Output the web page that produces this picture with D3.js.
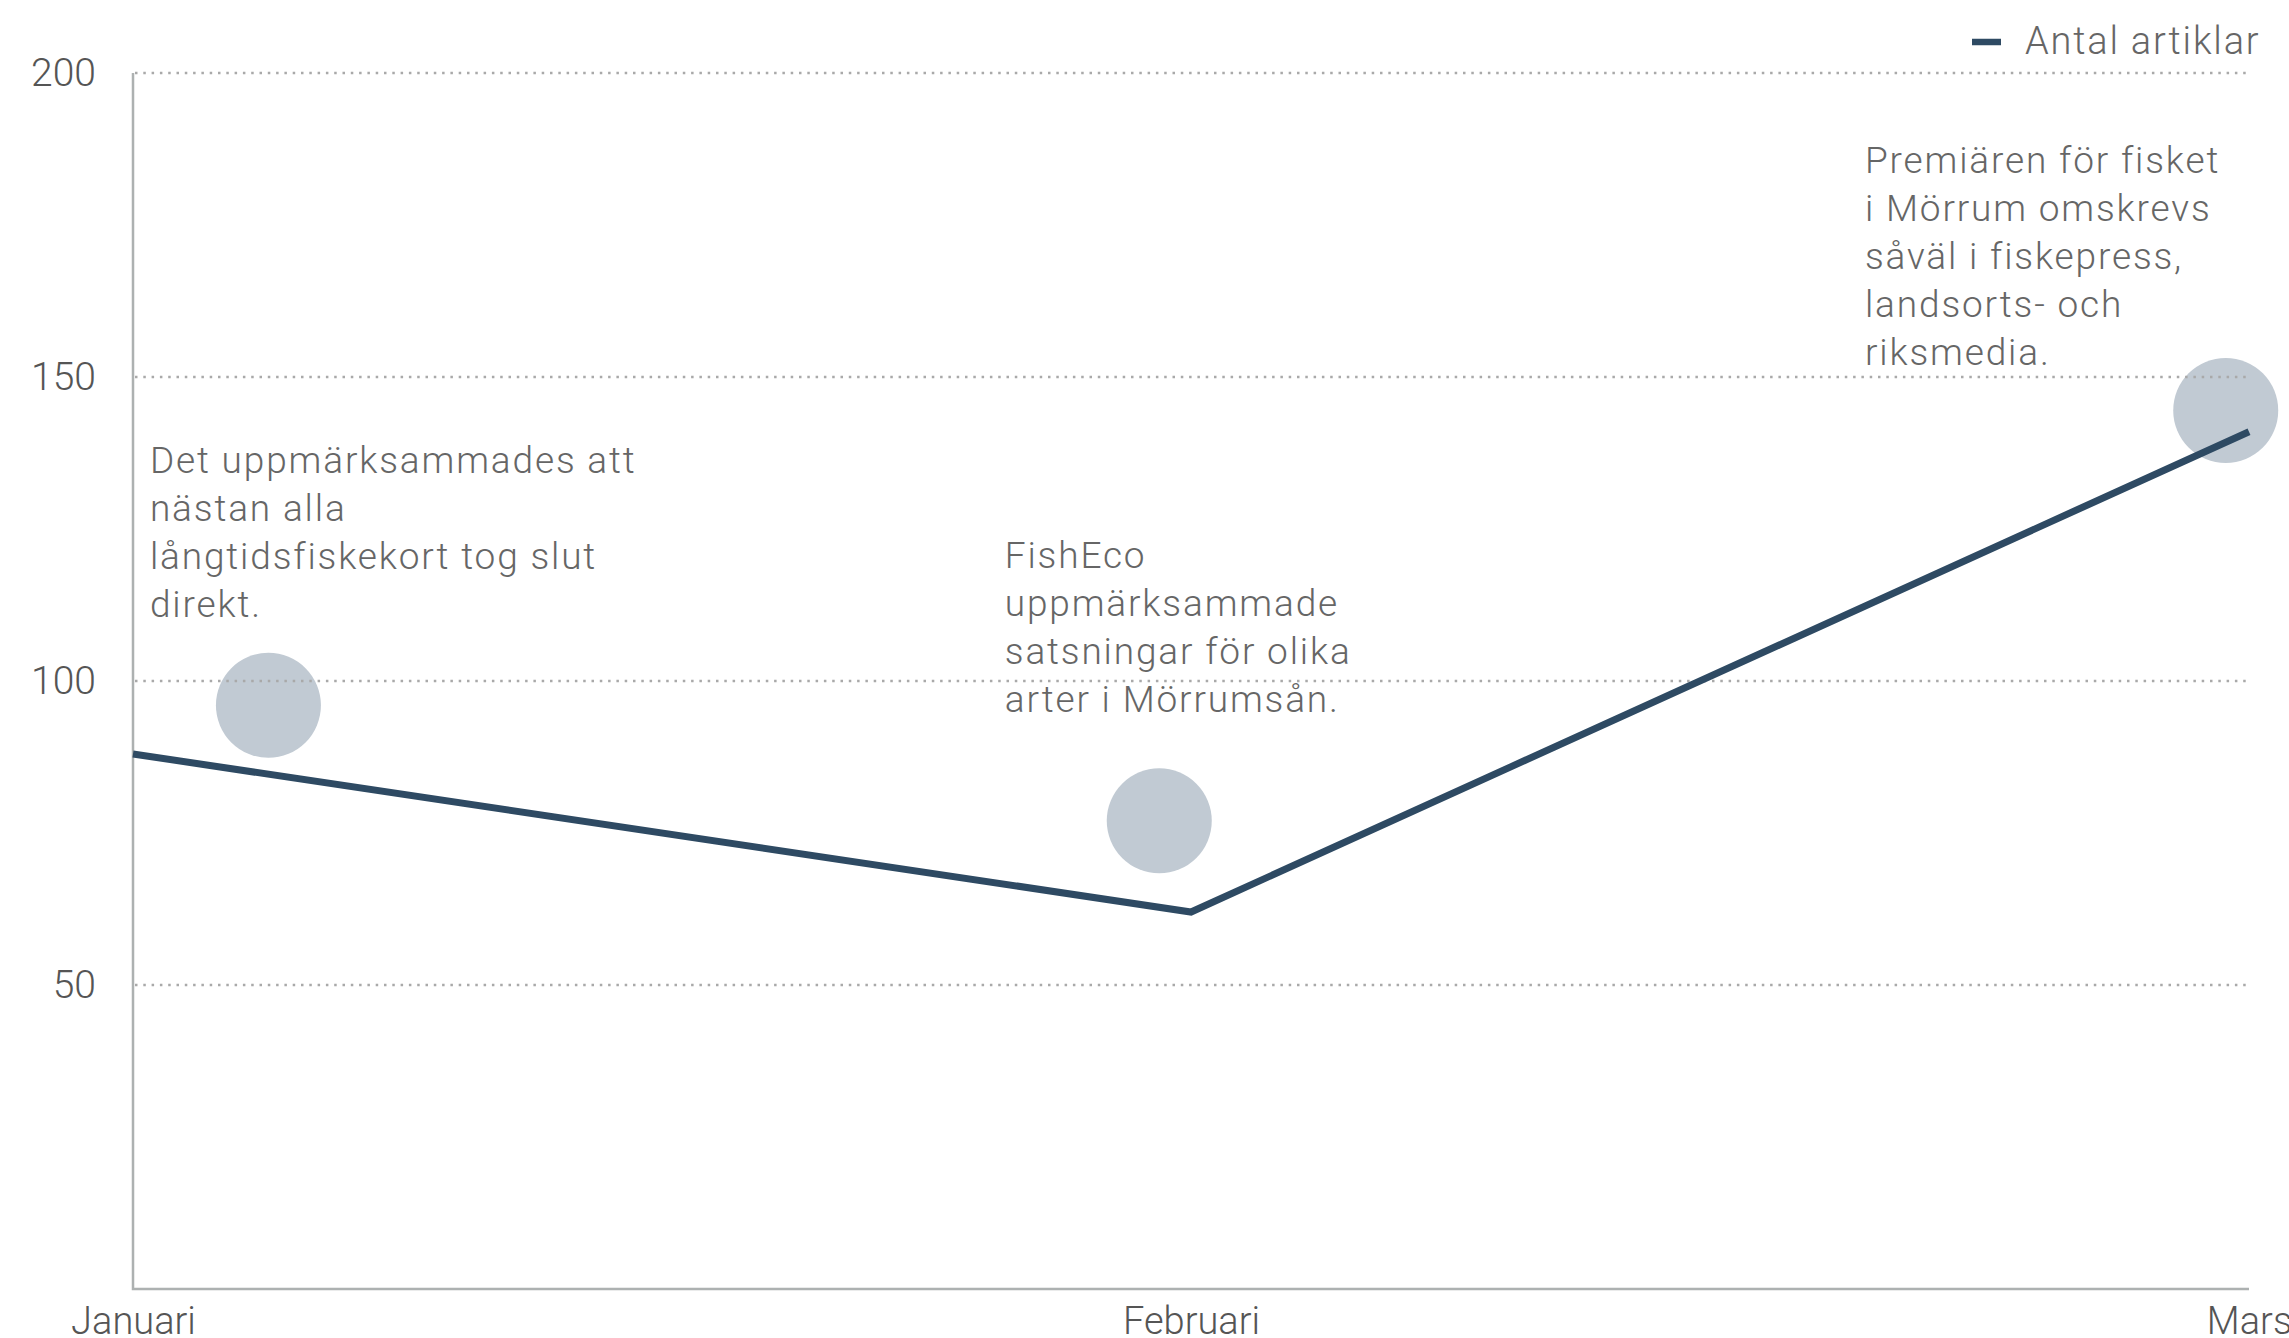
<!DOCTYPE html>
<html lang="sv">
<head>
<meta charset="utf-8">
<script src="https://cdn.jsdelivr.net/npm/d3@7"></script>
<style>
  html, body { margin: 0; padding: 0; background: #fff; }
  svg { display: block; }
  text { font-family: Roboto, "Open Sans", sans-serif; font-weight: 300; }
</style>
</head>
<body>
<svg id="chart" width="2289" height="1338"></svg>
<script>
// Number of published articles per month
const months = ["Januari", "Februari", "Mars"];
const articles = [88, 62, 141];

// Highlight markers (position along the month axis, value)
const markerPositions = [0.128, 0.97, 1.978];
const markerValues = [96, 77, 144.5];

// Notes attached to each highlight
const notes = [
  ["Det uppmärksammades att", "nästan alla", "långtidsfiskekort tog slut", "direkt."],
  ["FishEco", "uppmärksammade", "satsningar för olika", "arter i Mörrumsån."],
  ["Premiären för fisket", "i Mörrum omskrevs", "såväl i fiskepress,", "landsorts- och", "riksmedia."]
];

const yTicks = [50, 100, 150, 200];
const seriesName = "Antal artiklar";

// ---- layout ----
const W = 2289, H = 1338;
const margin = { top: 73, right: 40, bottom: 49, left: 133 };
const lineColor = "#2e4a63";
const markerColor = "#c1cad3";
const gridColor = "#a9a9a9";
const axisColor = "#adb1b1";
const labelColor = "#555555";
const noteColor = "#666666";

const svg = d3.select("#chart");

const x = d3.scalePoint()
  .domain(months)
  .range([margin.left, W - margin.right]);

// continuous version of the month axis for the markers and notes
const xi = d3.scaleLinear()
  .domain([0, months.length - 1])
  .range([margin.left, W - margin.right]);

const y = d3.scaleLinear()
  .domain([0, 200])
  .range([H - margin.bottom, margin.top]);

// highlight markers
svg.append("g")
  .selectAll("circle")
  .data(markerValues)
  .join("circle")
  .attr("cx", (d, i) => xi(markerPositions[i]))
  .attr("cy", d => y(d))
  .attr("r", 52.5)
  .attr("fill", markerColor);

// dotted gridlines
svg.append("g")
  .selectAll("line")
  .data(yTicks)
  .join("line")
  .attr("x1", margin.left + 2)
  .attr("x2", W - margin.right)
  .attr("y1", d => y(d))
  .attr("y2", d => y(d))
  .attr("stroke", gridColor)
  .attr("stroke-width", 2.4)
  .attr("stroke-dasharray", "2.5 5.8");

// y axis labels
const yAxis = svg.append("g")
  .attr("transform", `translate(${margin.left},0)`)
  .call(d3.axisLeft(y).tickValues(yTicks).tickSize(0).tickPadding(37));
yAxis.select(".domain").remove();
yAxis.selectAll("text")
  .attr("font-size", 39)
  .attr("fill", labelColor)
  .style("font-family", "Roboto, sans-serif")
  .style("font-weight", 300);

// x axis labels
const xAxis = svg.append("g")
  .attr("transform", `translate(0,${H - margin.bottom})`)
  .call(d3.axisBottom(x).tickSize(0).tickPadding(18));
xAxis.select(".domain").remove();
xAxis.selectAll("text")
  .attr("font-size", 38)
  .attr("fill", labelColor)
  .style("font-family", "Roboto, sans-serif")
  .style("font-weight", 300);

// axis lines
svg.append("path")
  .attr("d", `M${margin.left},${y(200)}V${y(0)}H${W - margin.right}`)
  .attr("fill", "none")
  .attr("stroke", axisColor)
  .attr("stroke-width", 2.5);

// article count line
const line = d3.line()
  .x((d, i) => x(months[i]))
  .y(d => y(d));

svg.append("path")
  .datum(articles)
  .attr("d", line)
  .attr("fill", "none")
  .attr("stroke", lineColor)
  .attr("stroke-width", 7)
  .attr("stroke-linejoin", "miter")
  .attr("stroke-linecap", "butt");

// notes: anchor (month-axis position, value of first baseline)
const noteAnchors = [[0.016, 134.2], [0.824, 118.6], [1.637, 183.6]];
const lineStep = 48;

svg.append("g")
  .selectAll("text")
  .data(notes)
  .join("text")
  .attr("x", (d, i) => xi(noteAnchors[i][0]))
  .attr("y", (d, i) => y(noteAnchors[i][1]))
  .attr("font-size", 37)
  .attr("letter-spacing", 1.85)
  .attr("fill", noteColor)
  .each(function (lines) {
    const t = d3.select(this);
    const x0 = t.attr("x");
    lines.forEach((s, k) => {
      t.append("tspan")
        .attr("x", x0)
        .attr("dy", k === 0 ? 0 : lineStep)
        .text(s);
    });
  });

// legend
const legend = svg.append("g").attr("transform", "translate(1972,42)");
legend.append("line")
  .attr("x1", 0).attr("x2", 29)
  .attr("y1", 0).attr("y2", 0)
  .attr("stroke", lineColor)
  .attr("stroke-width", 6.5);
legend.append("text")
  .attr("x", 53)
  .attr("y", 12)
  .attr("font-size", 38)
  .attr("letter-spacing", 1.8)
  .attr("fill", noteColor)
  .text(seriesName);
</script>
</body>
</html>
